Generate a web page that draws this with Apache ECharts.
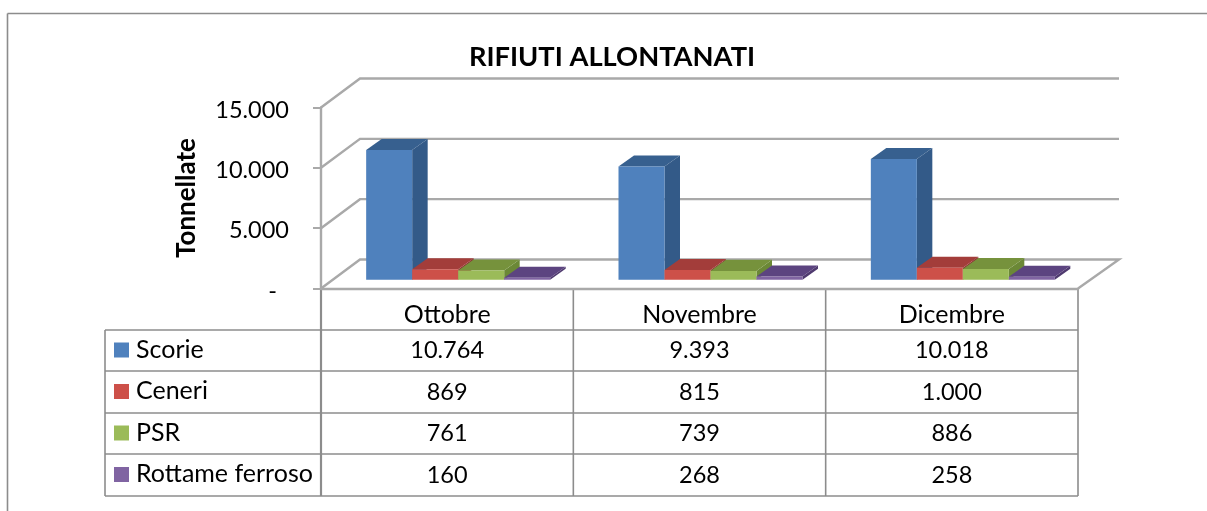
<!DOCTYPE html>
<html>
<head>
<meta charset="utf-8">
<title>Rifiuti allontanati</title>
<script src="https://cdn.jsdelivr.net/npm/echarts@6/dist/echarts.min.js"></script>
<style>
html, body { margin: 0; padding: 0; background: #fff; }
#chart { width: 1207px; height: 511px; }
</style>
</head>
<body>
<div id="chart"></div>
<script>
var categories = ['Ottobre', 'Novembre', 'Dicembre'];
var scorie = [10764, 9393, 10018];
var ceneri = [869, 815, 1000];
var psr = [761, 739, 886];
var rottame = [160, 268, 258];
var seriesNames = ['Scorie', 'Ceneri', 'PSR', 'Rottame ferroso'];
var yTicks = [0, 5000, 10000, 15000];
var yTickLabels = ['-', '5.000', '10.000', '15.000'];

var allValues = [scorie, ceneri, psr, rottame];
var frontColors = ['#4f81bd', '#cd5049', '#9bbb59', '#8064a2'];
var topColors = ['#37608f', '#a33d3a', '#76923c', '#5c4480'];
var sideColors = ['#335a88', '#8e3532', '#6b8836', '#4f3a6f'];

var FONT = 'Lato';
var LINE = '#8c8c8c';
var WALL = '#a9a9a9';
var GRID = { left: 321, top: 107.5, width: 757, height: 181 };
var WALL_LEFT = 39, WALL_RIGHT = 41, DEPTH_Y = 29; // spostamento della parete di fondo
var BAR_W = 46 / 252.33;              // quota della categoria per barra
var BAR_SHIFT = 11;                   // spostamento x della faccia frontale
var BAR_FRONT = 0.3, BAR_BACK = 0.68; // posizione della barra nella profondita
var BAR_DX = 15.5;

function fmt(v) {
    return String(v).replace(/\B(?=(\d{3})+$)/g, '.');
}

function renderWall(params, api) {
    var cs = params.coordSys;
    var y = api.coord([0, api.value(0)])[1];
    var pts = [[cs.x, y], [cs.x + WALL_LEFT, y - DEPTH_Y], [cs.x + cs.width + WALL_RIGHT, y - DEPTH_Y]];
    if (api.value(0) === 0) {
        pts.push([cs.x + cs.width, y]);
    }
    return {
        type: 'polyline',
        shape: { points: pts },
        style: { stroke: WALL, lineWidth: 2.4, fill: null }
    };
}

function barRenderer(s) {
    return function (params, api) {
        var idx = api.value(0);
        var band = api.size([1, 0])[0];
        var w = band * BAR_W;
        var base = api.coord([idx, 0]);
        var top = api.coord([idx, api.value(1)]);
        var x0 = base[0] + (s - 2) * w + BAR_SHIFT;
        var x1 = x0 + w;
        var yb = base[1] - BAR_FRONT * DEPTH_Y;
        var yt = top[1] - BAR_FRONT * DEPTH_Y;
        var dx = BAR_DX;
        var dy = (BAR_BACK - BAR_FRONT) * DEPTH_Y;
        return {
            type: 'group',
            children: [
                { type: 'polygon', shape: { points: [[x1, yb], [x1 + dx, yb - dy], [x1 + dx, yt - dy], [x1, yt]] }, style: { fill: sideColors[s] } },
                { type: 'polygon', shape: { points: [[x0, yt], [x0 + dx, yt - dy], [x1 + dx, yt - dy], [x1, yt]] }, style: { fill: topColors[s] } },
                { type: 'rect', shape: { x: x0, y: yt, width: w, height: yb - yt }, style: { fill: frontColors[s] } }
            ]
        };
    };
}

var barSeries = seriesNames.map(function (name, s) {
    return {
        name: name,
        type: 'custom',
        z: 3 + s,
        silent: true,
        renderItem: barRenderer(s),
        encode: { x: 0, y: 1 },
        data: allValues[s].map(function (v, i) { return [i, v]; })
    };
});

// tabella dati sotto il grafico
function tableGraphic() {
    var els = [];
    var colW = GRID.width / categories.length;
    var right = GRID.left + GRID.width;
    var rows = [330, 371, 413, 454, 496];
    var legendLeft = 105;

    function line(x1, y1, x2, y2, lw) {
        els.push({ type: 'line', shape: { x1: x1, y1: y1, x2: x2, y2: y2 }, style: { stroke: LINE, lineWidth: lw || 1.6 } });
    }
    function text(x, y, str, align, size) {
        els.push({ type: 'text', x: x, y: y, style: { text: str, fill: '#000', font: size + 'px ' + FONT, textAlign: align, textVerticalAlign: 'middle' } });
    }

    line(7.5, 13.5, 1207, 13.5);
    line(7.5, 13.5, 7.5, 511);

    rows.forEach(function (y) { line(legendLeft, y, right, y); });
    line(legendLeft, rows[0], legendLeft, rows[4]);
    for (var c = 0; c <= categories.length; c++) {
        line(GRID.left + c * colW, 289, GRID.left + c * colW, rows[4], c === 0 ? 2.2 : 1.6);
    }

    seriesNames.forEach(function (name, s) {
        var cy = (rows[s] + rows[s + 1]) / 2;
        els.push({ type: 'rect', shape: { x: 114, y: cy - 8, width: 15, height: 15 }, style: { fill: frontColors[s] } });
        text(136, cy - 1, name, 'left', 25);
        allValues[s].forEach(function (v, i) {
            text(GRID.left + (i + 0.5) * colW, cy, fmt(v), 'center', 23.5);
        });
    });
    return els;
}

var chart = echarts.init(document.getElementById('chart'));
chart.setOption({
    animation: false,
    backgroundColor: '#fff',
    title: {
        text: 'RIFIUTI ALLONTANATI',
        left: 607,
        top: 39,
        textAlign: 'center',
        textStyle: { fontFamily: FONT, fontSize: 27.3, fontWeight: 'bold', color: '#000' }
    },
    grid: GRID,
    xAxis: {
        type: 'category',
        data: categories,
        axisLine: { lineStyle: { color: WALL, width: 2.4 } },
        axisTick: { show: false },
        axisLabel: { margin: 14, color: '#000', fontFamily: FONT, fontSize: 25 }
    },
    yAxis: {
        type: 'value',
        min: 0,
        max: 15000,
        interval: 5000,
        name: 'Tonnellate',
        nameLocation: 'middle',
        nameGap: 121,
        nameTextStyle: { fontFamily: FONT, fontSize: 26, fontWeight: 'bold', color: '#000' },
        axisLine: { show: true, lineStyle: { color: WALL, width: 2.4 } },
        axisTick: { show: true, length: 8, lineStyle: { color: WALL, width: 2 } },
        splitLine: { show: false },
        axisLabel: {
            margin: 32,
            color: '#000',
            fontFamily: FONT,
            fontSize: 23.5,
            verticalAlign: 'top',
            lineHeight: 5,
            formatter: function (v) {
                var label = yTickLabels[yTicks.indexOf(v)];
                return v === 0 ? label + '\u00a0\u00a0' : label;
            }
        }
    },
    series: [{
        type: 'custom',
        z: 1,
        silent: true,
        renderItem: renderWall,
        encode: { y: 0 },
        data: yTicks.map(function (v) { return [v]; })
    }].concat(barSeries),
    graphic: tableGraphic()
});
</script>
</body>
</html>
